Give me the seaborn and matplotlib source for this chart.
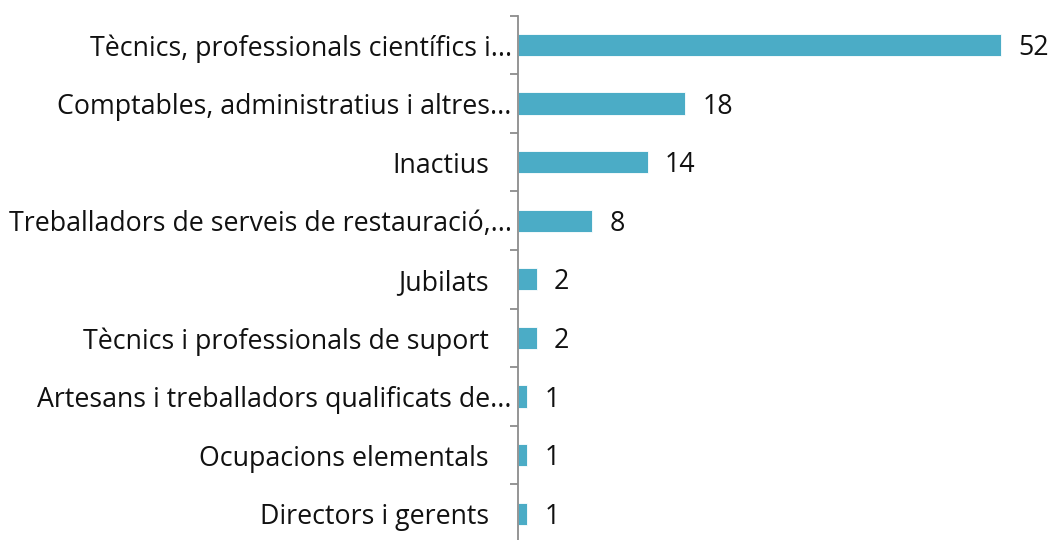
import matplotlib
matplotlib.use("Agg")
import matplotlib.pyplot as plt
import matplotlib.transforms as mtransforms
import seaborn as sns
import pandas as pd
import numpy as np

# Data
categories = [
    "Tècnics, professionals científics i...",
    "Comptables, administratius i altres...",
    "Inactius",
    "Treballadors de serveis de restauració,...",
    "Jubilats",
    "Tècnics i professionals de suport",
    "Artesans i treballadors qualificats de...",
    "Ocupacions elementals",
    "Directors i gerents",
]
values = [52, 18, 14, 8, 2, 2, 1, 1, 1]

bar_color = "#4BACC6"

sns.set_theme(style="white")
plt.rcParams['font.family'] = ['Open Sans', 'DejaVu Sans']

df = pd.DataFrame({"cat": categories, "val": values})

fig = plt.figure(figsize=(10.51, 5.40), dpi=100)
ax = fig.add_axes([518 / 1051, -3 / 540, (1040 - 518) / 1051, (540 - 15.7 + 3) / 540])

sns.barplot(data=df, x="val", y="cat", color=bar_color, width=0.38,
            edgecolor="white", linewidth=0.6, ax=ax, saturation=1)

ax.set_xlim(0, 56.2)
ax.set_ylim(len(categories) - 0.5, -0.5)
ax.set_xlabel("")
ax.set_ylabel("")
ax.set_xticks([])

# spines
for s in ["top", "right", "bottom"]:
    ax.spines[s].set_visible(False)
ax.spines["left"].set_color("#8c8c8c")
ax.spines["left"].set_linewidth(1.3)

# ticks at the category boundaries
ax.set_yticks(np.arange(len(categories)))
ax.set_yticklabels(categories)
ax.set_yticks(np.arange(len(categories) + 1) - 0.5, minor=True)
ax.tick_params(axis="y", which="major", length=0, pad=21, labelsize=19.3, labelcolor="#111111")
ax.tick_params(axis="y", which="minor", length=6, width=1.3, color="#8c8c8c", left=True)

# truncated labels sit closer to the axis
shift = mtransforms.ScaledTranslation(23 / 100, 0, fig.dpi_scale_trans)
for lab in ax.get_yticklabels():
    if lab.get_text().endswith("..."):
        lab.set_transform(lab.get_transform() + shift)

# value labels
for i, v in enumerate(values):
    ax.annotate(str(v), xy=(v, i), xytext=(17, -3), textcoords="offset pixels",
                ha="left", va="center", fontsize=19.3, color="#111111")

fig.savefig("out.png", dpi=100, facecolor="white")
